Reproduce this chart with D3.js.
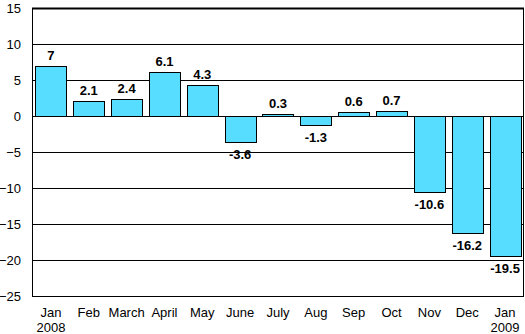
<!DOCTYPE html>
<html>
<head>
<meta charset="utf-8">
<script src="https://cdn.jsdelivr.net/npm/d3@7"></script>
<style>
  body { margin: 0; background: #fff; }
  svg text { font-family: Arial, "Liberation Sans", sans-serif; }
</style>
</head>
<body>
<svg id="chart" width="525" height="334"></svg>
<script>
// chart data
var months = ["Jan", "Feb", "March", "April", "May", "June", "July", "Aug", "Sep", "Oct", "Nov", "Dec", "Jan"];
var years = ["2008", "", "", "", "", "", "", "", "", "", "", "", "2009"];
var values = [7, 2.1, 2.4, 6.1, 4.3, -3.6, 0.3, -1.3, 0.6, 0.7, -10.6, -16.2, -19.5];
var yTicks = [15, 10, 5, 0, -5, -10, -15, -20, -25];

var svg = d3.select("#chart");
var plotLeft = 32, plotRight = 524, plotTop = 8, plotBottom = 296;

var x = d3.scaleBand().domain(d3.range(values.length)).range([plotLeft, plotRight]).paddingInner(0.18).paddingOuter(0.09);
var y = d3.scaleLinear().domain([-25, 15]).range([plotBottom, plotTop]);

// grid lines
svg.selectAll(".grid").data(yTicks).enter().append("line")
  .attr("x1", plotLeft).attr("x2", plotRight)
  .attr("y1", function(d){ return Math.round(y(d)) + 0.5; })
  .attr("y2", function(d){ return Math.round(y(d)) + 0.5; })
  .attr("stroke", "#000").attr("stroke-width", function(d){ return d == 15 ? 2 : 1; });

// y axis labels
var yAxis = d3.axisLeft(y).tickValues(yTicks).tickSize(0).tickPadding(11);
var ya = svg.append("g").attr("transform", "translate(" + plotLeft + ",0)").call(yAxis);
ya.select(".domain").remove();
ya.selectAll("text").attr("font-size", 13).attr("font-family", "Arial, 'Liberation Sans', sans-serif").attr("fill", "#000");

// bars
svg.selectAll(".bar").data(values).enter().append("rect")
  .attr("x", function(d, i){ return Math.round(x(i)) + 0.5; })
  .attr("width", Math.round(x.bandwidth()))
  .attr("y", function(d){ return Math.round(y(Math.max(0, d))) + 0.5; })
  .attr("height", function(d){ return Math.round(Math.abs(y(d) - y(0))); })
  .attr("fill", "#57DDFF").attr("stroke", "#000").attr("stroke-width", 1);

// value labels
svg.selectAll(".val").data(values).enter().append("text")
  .text(function(d){ return d; })
  .attr("text-anchor", "middle")
  .attr("x", function(d, i){ return x(i) + x.bandwidth() / 2; })
  .attr("y", function(d){ return d >= 0 ? y(d) - 6 : y(d) + 17; })
  .attr("font-size", 13).attr("font-weight", "bold");

// axes frame
svg.append("line").attr("x1", plotLeft + 0.5).attr("x2", plotLeft + 0.5).attr("y1", plotTop).attr("y2", plotBottom + 1).attr("stroke", "#000");
svg.append("line").attr("x1", plotRight - 0.5).attr("x2", plotRight - 0.5).attr("y1", plotTop).attr("y2", plotBottom + 1).attr("stroke", "#000");

// x labels
svg.selectAll(".mon").data(months).enter().append("text")
  .text(function(d){ return d; })
  .attr("text-anchor", "middle")
  .attr("x", function(d, i){ return x(i) + x.bandwidth() / 2; })
  .attr("y", 317).attr("font-size", 13);
svg.selectAll(".yr").data(years).enter().append("text")
  .text(function(d){ return d; })
  .attr("text-anchor", "middle")
  .attr("x", function(d, i){ return x(i) + x.bandwidth() / 2; })
  .attr("y", 332).attr("font-size", 13);
</script>
</body>
</html>
